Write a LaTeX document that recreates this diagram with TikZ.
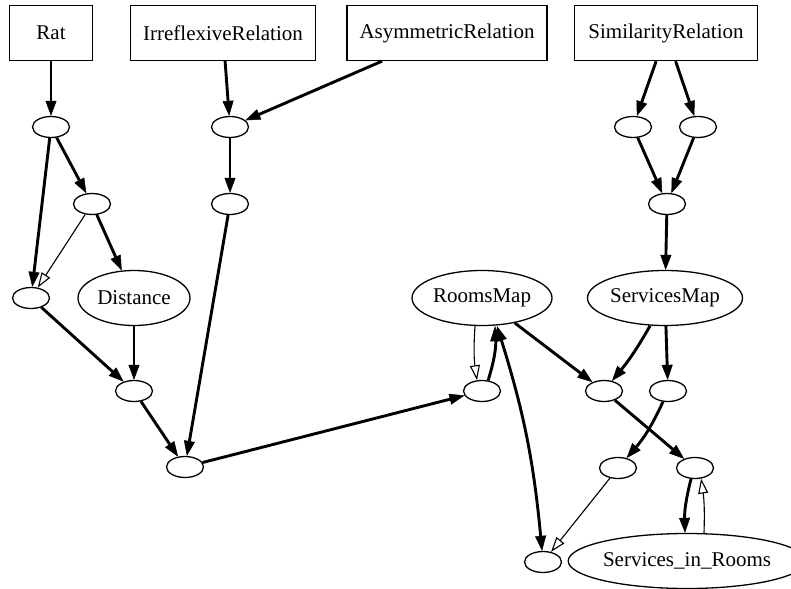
\documentclass[tikz,border=0pt]{standalone}
\usepackage{fontspec}
\setmainfont{Liberation Serif}
\usetikzlibrary{shapes.geometric,arrows.meta,positioning}
\begin{document}
\begin{tikzpicture}[x=1pt,y=-1pt,
    font=\fontsize{21}{25}\selectfont,
    box/.style={draw,line width=1.3pt,minimum height=55pt,inner sep=0pt},
    named/.style={draw,ellipse,line width=1.3pt,minimum height=55pt,inner sep=0pt},
    knot/.style={draw,ellipse,line width=1.3pt,minimum width=37pt,minimum height=21pt,inner sep=0pt},
    tip/.tip={Triangle[length=15pt,width=11pt,line width=0.5pt]},
    link/.style={line width=2.9pt,-tip},
    hollowlink/.style={line width=1.1pt,-{Triangle[open,length=15pt,width=10pt,line width=1.1pt,fill=white]}}]
    \useasboundingbox (0,0) rectangle (791,588);
    % top row
    \node[box,minimum width=83pt]  (rat)  at (51,33)  {Rat};
    \node[box,minimum width=185pt] (irr)  at (223,33) {IrreflexiveRelation};
    \node[box,minimum width=200pt] (asym) at (447,33) {AsymmetricRelation};
    \node[box,minimum width=183pt] (sim)  at (666,33) {SimilarityRelation};
    % labelled ellipses
    \node[named,minimum width=112pt] (dist)  at (134,298) {Distance};
    \node[named,minimum width=140pt] (rooms) at (482,298) {RoomsMap};
    \node[named,minimum width=152pt] (serv)  at (665,298) {ServicesMap};
    \node[named,minimum width=200pt] (sir)   at (687,561) {Services\_in\_Rooms};
    % empty ellipses
    \foreach \n/\x/\y in {k1/51/127, k2/230/127, k3/92/204, k4/230/204,
                          k5/31/298, k6/134/391, k7/185/467, k8/482/391,
                          k9/604/391, k10/668/391, k11/618/468, k12/695/468,
                          k13/543/562, k14/633/127, k15/698/127, k16/667/204}
        \node[knot] (\n) at (\x,\y) {};
    % left part
    \draw[link] (rat) -- (k1);
    \draw[link] (k1) -- (k5);
    \draw[link] (k1) -- (k3);
    \draw[hollowlink] (k3) -- (k5);
    \draw[link] (k3) -- (dist);
    \draw[link] (k5) -- (k6);
    \draw[link] (dist) -- (k6);
    \draw[link] (k6) -- (k7);
    \draw[link] (irr) -- (k2);
    \draw[link] (asym) -- (k2);
    \draw[link] (k2) -- (k4);
    \draw[link] (k4) -- (k7);
    \draw[link] (k7) -- (k8);
    % rooms
    \draw[hollowlink] ([xshift=-7pt]rooms.south) to[bend right=6] (k8.115);
    \draw[link] (k8.60) to[bend right=10] ([xshift=13pt]rooms.south);
    \draw[link,tip-tip] ([xshift=15pt]rooms.south) to[bend left=6] (k13);
    \draw[link] (rooms) -- (k9);
    % services
    \draw[link] (sim) -- (k14);
    \draw[link] (sim) -- (k15);
    \draw[link] (k14) -- (k16);
    \draw[link] (k15) -- (k16);
    \draw[link] (k16) -- (serv);
    \draw[link] (serv) to[bend left=5] (k9);
    \draw[link] (serv) -- (k10);
    \draw[link] (k9) -- (k12);
    \draw[link] (k10) to[bend left=8] (k11);
    \draw[hollowlink] (k11) -- (k13);
    \draw[link] (k12.250) to[bend right=8] ([xshift=-2pt]sir.north);
    \draw[hollowlink] ([xshift=17pt]sir.north) to[bend right=5] (k12.300);
\end{tikzpicture}
\end{document}
